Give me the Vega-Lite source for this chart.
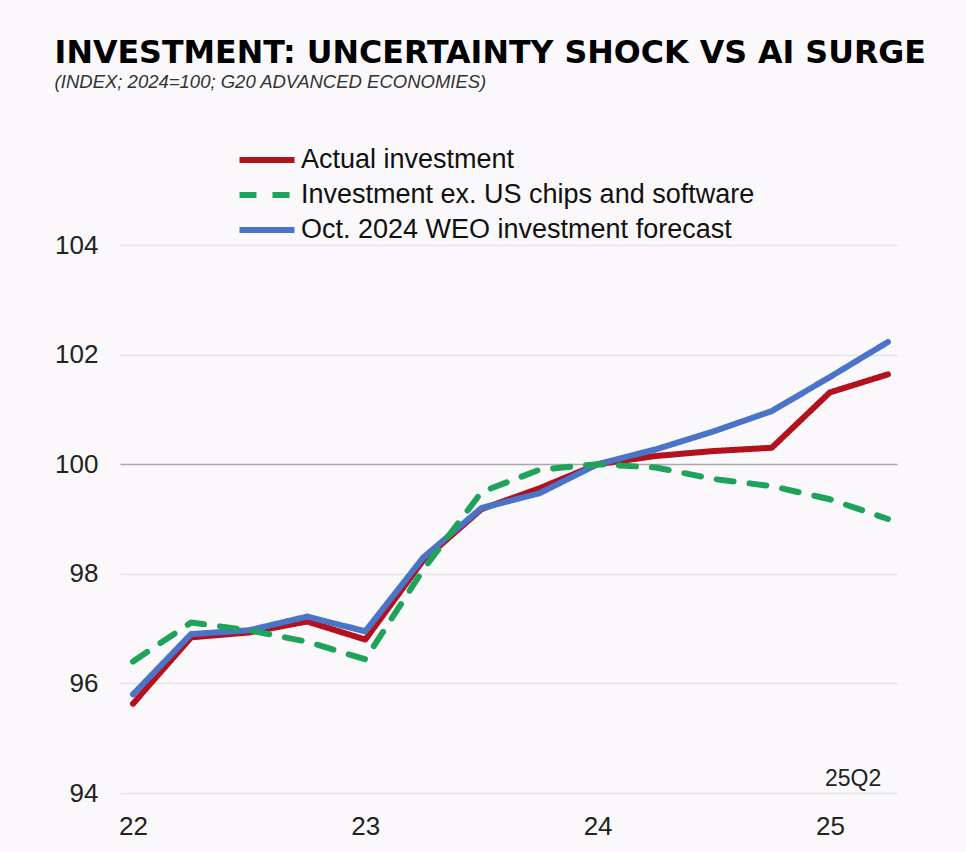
{
  "$schema": "https://vega.github.io/schema/vega-lite/v6.json",
  "width": 777,
  "height": 548,
  "autosize": {"type": "none"},
  "padding": {"left": 120, "top": 245, "right": 69, "bottom": 59},
  "background": "#fbf8fb",
  "title": {
    "text": "INVESTMENT: UNCERTAINTY SHOCK VS AI SURGE",
    "subtitle": "(INDEX; 2024=100; G20 ADVANCED ECONOMIES)",
    "anchor": "start",
    "frame": "bounds",
    "font": "DejaVu Sans",
    "fontSize": 31.7,
    "fontWeight": "bold",
    "color": "#000000",
    "subtitleFont": "Liberation Sans",
    "subtitleFontSize": 18.5,
    "subtitleFontStyle": "italic",
    "subtitleColor": "#333333",
    "subtitlePadding": 3,
    "offset": 52
  },
  "config": {
    "view": {"stroke": null},
    "font": "Liberation Sans"
  },
  "datasets": {
    "series": [
      {"q": 22.0, "series": "Actual investment", "v": 95.63},
      {"q": 22.25, "series": "Actual investment", "v": 96.84},
      {"q": 22.5, "series": "Actual investment", "v": 96.93},
      {"q": 22.75, "series": "Actual investment", "v": 97.13},
      {"q": 23.0, "series": "Actual investment", "v": 96.8},
      {"q": 23.25, "series": "Actual investment", "v": 98.25},
      {"q": 23.5, "series": "Actual investment", "v": 99.18},
      {"q": 23.75, "series": "Actual investment", "v": 99.56},
      {"q": 24.0, "series": "Actual investment", "v": 100.0},
      {"q": 24.25, "series": "Actual investment", "v": 100.15},
      {"q": 24.5, "series": "Actual investment", "v": 100.24},
      {"q": 24.75, "series": "Actual investment", "v": 100.3},
      {"q": 25.0, "series": "Actual investment", "v": 101.31},
      {"q": 25.25, "series": "Actual investment", "v": 101.64},
      {"q": 22.0, "series": "Oct. 2024 WEO investment forecast", "v": 95.8},
      {"q": 22.25, "series": "Oct. 2024 WEO investment forecast", "v": 96.9},
      {"q": 22.5, "series": "Oct. 2024 WEO investment forecast", "v": 96.97},
      {"q": 22.75, "series": "Oct. 2024 WEO investment forecast", "v": 97.22},
      {"q": 23.0, "series": "Oct. 2024 WEO investment forecast", "v": 96.95},
      {"q": 23.25, "series": "Oct. 2024 WEO investment forecast", "v": 98.3},
      {"q": 23.5, "series": "Oct. 2024 WEO investment forecast", "v": 99.2},
      {"q": 23.75, "series": "Oct. 2024 WEO investment forecast", "v": 99.47},
      {"q": 24.0, "series": "Oct. 2024 WEO investment forecast", "v": 100.0},
      {"q": 24.25, "series": "Oct. 2024 WEO investment forecast", "v": 100.27},
      {"q": 24.5, "series": "Oct. 2024 WEO investment forecast", "v": 100.6},
      {"q": 24.75, "series": "Oct. 2024 WEO investment forecast", "v": 100.97},
      {"q": 25.0, "series": "Oct. 2024 WEO investment forecast", "v": 101.59},
      {"q": 25.25, "series": "Oct. 2024 WEO investment forecast", "v": 102.23},
      {"q": 22.0, "series": "Investment ex. US chips and software", "v": 96.4},
      {"q": 22.25, "series": "Investment ex. US chips and software", "v": 97.11},
      {"q": 22.5, "series": "Investment ex. US chips and software", "v": 96.97},
      {"q": 22.75, "series": "Investment ex. US chips and software", "v": 96.76},
      {"q": 23.0, "series": "Investment ex. US chips and software", "v": 96.44},
      {"q": 23.25, "series": "Investment ex. US chips and software", "v": 98.08},
      {"q": 23.5, "series": "Investment ex. US chips and software", "v": 99.49},
      {"q": 23.75, "series": "Investment ex. US chips and software", "v": 99.9},
      {"q": 24.0, "series": "Investment ex. US chips and software", "v": 100.0},
      {"q": 24.25, "series": "Investment ex. US chips and software", "v": 99.94},
      {"q": 24.5, "series": "Investment ex. US chips and software", "v": 99.73},
      {"q": 24.75, "series": "Investment ex. US chips and software", "v": 99.6},
      {"q": 25.0, "series": "Investment ex. US chips and software", "v": 99.36},
      {"q": 25.25, "series": "Investment ex. US chips and software", "v": 99.0}
    ],
    "notes": [
      {"q": 25.1, "v": 94.26, "label": "25Q2"}
    ]
  },
  "layer": [
    {
      "data": {"name": "series"},
      "mark": {"type": "line", "strokeWidth": 6, "strokeCap": "round", "strokeJoin": "round"},
      "encoding": {
        "x": {
          "field": "q",
          "type": "quantitative",
          "scale": {"domain": [21.944, 25.289], "nice": false, "zero": false},
          "axis": {
            "title": null,
            "values": [22, 23, 24, 25],
            "format": "d",
            "grid": false,
            "domain": false,
            "ticks": false,
            "labelFontSize": 26,
            "labelFont": "Liberation Sans",
            "labelColor": "#222222",
            "labelPadding": 20,
            "labelFlush": false
          }
        },
        "y": {
          "field": "v",
          "type": "quantitative",
          "scale": {"domain": [94, 104], "nice": false, "zero": false},
          "axis": {
            "title": null,
            "values": [94, 96, 98, 100, 102, 104],
            "grid": true,
            "gridColor": {"condition": {"test": "datum.value === 100", "value": "#a9a9a9"}, "value": "#e4e2e4"},
            "gridWidth": 1.5,
            "domain": false,
            "ticks": false,
            "labelFontSize": 26,
            "labelFont": "Liberation Sans",
            "labelColor": "#222222",
            "labelPadding": 22
          }
        },
        "color": {
          "field": "series",
          "type": "nominal",
          "scale": {
            "domain": ["Actual investment", "Investment ex. US chips and software", "Oct. 2024 WEO investment forecast"],
            "range": ["#b3111d", "#1fa35b", "#4a74c8"]
          },
          "legend": {
            "title": null,
            "orient": "none",
            "legendX": 130,
            "legendY": -102,
            "symbolType": "M-2,0H2",
            "symbolSize": 756,
            "symbolStrokeWidth": 6,
            "symbolFillColor": "transparent",
            "labelFontSize": 27,
            "labelFont": "Liberation Sans",
            "labelColor": "#111111",
            "labelOffset": 17,
            "rowPadding": 5,
            "labelLimit": 700
          }
        },
        "strokeDash": {
          "field": "series",
          "type": "nominal",
          "scale": {
            "domain": ["Actual investment", "Investment ex. US chips and software", "Oct. 2024 WEO investment forecast"],
            "range": [[1, 0], [17, 16], [1, 0]]
          },
          "legend": null
        }
      }
    },
    {
      "data": {"name": "notes"},
      "mark": {"type": "text", "fontSize": 23, "font": "Liberation Sans", "color": "#222222"},
      "encoding": {
        "x": {"field": "q", "type": "quantitative"},
        "y": {"field": "v", "type": "quantitative"},
        "text": {"field": "label"}
      }
    }
  ]
}
